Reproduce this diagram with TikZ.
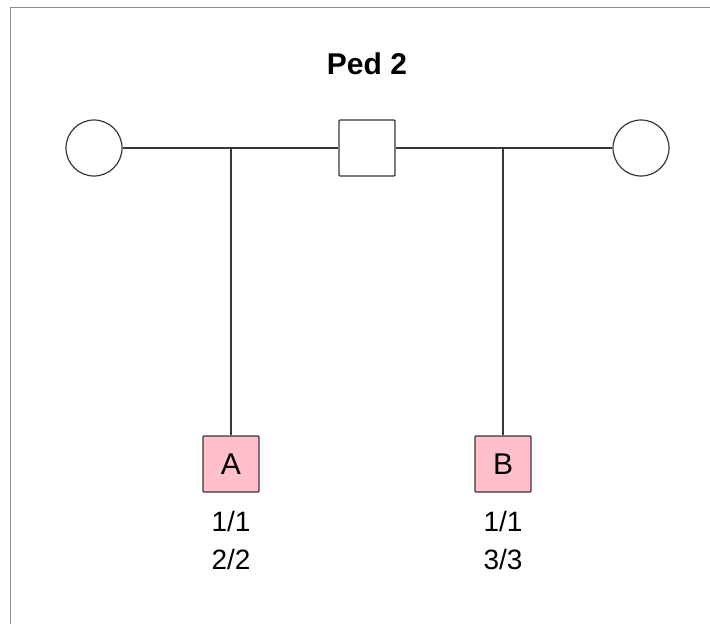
\documentclass[tikz,border=0pt]{standalone}
\usepackage{fontspec}
\setmainfont{Liberation Sans}
\usepackage{xcolor}
\usepackage{tikz}
\usetikzlibrary{positioning}

\definecolor{pedpink}{RGB}{255,192,203}
\definecolor{pedline}{RGB}{55,55,55}

\begin{document}
\begin{tikzpicture}[x=1pt, y=-1pt, line width=1.2pt,
    every node/.style={draw=none, inner sep=0pt},
    female/.style={draw=pedline, circle, minimum size=56pt, fill=white},
    male/.style={draw=pedline, rectangle, rounded corners=1pt, minimum size=56pt, fill=white},
    kid/.style={draw=pedline, rectangle, rounded corners=1pt, minimum size=56pt, fill=pedpink, font=\fontsize{30}{32}\selectfont},
    geno/.style={align=center, font=\fontsize{28}{38}\selectfont}]
    \useasboundingbox (0,0) rectangle (710,624);
    % Frame
    \draw[line width=0.8pt, black!45] (10,624) -- (10,7) -- (710,7);

    % Title
    \node (title) at (367,64) {\fontsize{30}{32}\selectfont\bfseries Ped 2};

    % Parents
    \node (mum1) [female] at (94,148) {};
    \node (dad) [male] at (367,148) {};
    \node (mum2) [female] at (641,148) {};

    % Mating lines
    \draw[pedline] (mum1) -- (dad);
    \draw[pedline] (dad) -- (mum2);

    % Children
    \node (kidA) [kid] at (231,464) {A};
    \node (kidB) [kid] at (503,464) {B};
    \coordinate (dropA) at (231,148);
    \coordinate (dropB) at (503,148);
    \draw[pedline] (dropA) -- (kidA);
    \draw[pedline] (dropB) -- (kidB);

    % Genotypes
    \node (genoA) [geno, below=18pt of kidA] {1/1\\2/2};
    \node (genoB) [geno, below=18pt of kidB] {1/1\\3/3};
\end{tikzpicture}
\end{document}
